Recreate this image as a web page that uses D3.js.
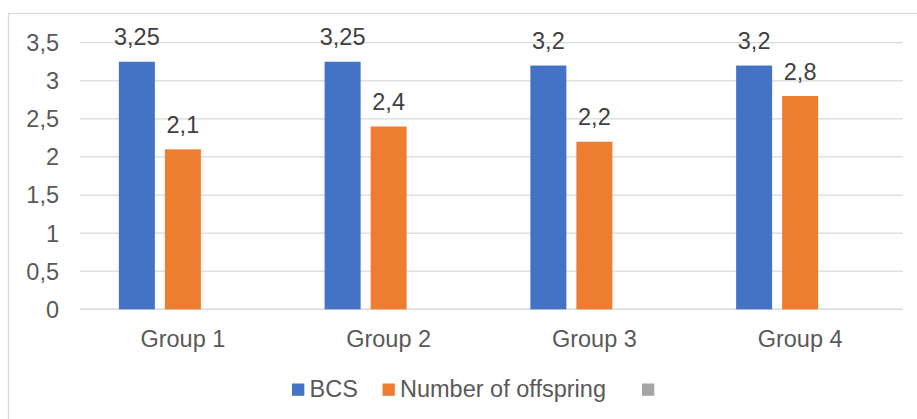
<!DOCTYPE html>
<html>
<head>
<meta charset="utf-8">
<script src="https://cdn.jsdelivr.net/npm/d3@7"></script>
<style>
  body { margin: 0; background: #fff; }
  text { font-family: "Liberation Sans", Arial, sans-serif; fill: #595959; }
</style>
</head>
<body>
<svg id="chart"></svg>
<script>
// data
const groups = ['Group 1', 'Group 2', 'Group 3', 'Group 4'];
const seriesNames = ['BCS', 'Number of offspring', ''];
const bcs = [3.25, 3.25, 3.2, 3.2];
const offspring = [2.1, 2.4, 2.2, 2.8];
const third = [null, null, null, null];
const yTicks = [0, 0.5, 1, 1.5, 2, 2.5, 3, 3.5];

const colors = ['#4472C4', '#ED7D31', '#A5A5A5'];
const fmt = v => String(v).replace('.', ',');
const fontSize = '23.5px';

const width = 917, height = 419;
const margin = {top: 42.7, right: 14, bottom: 109.7, left: 80};
const innerW = width - margin.left - margin.right;
const innerH = height - margin.top - margin.bottom;

const svg = d3.select('#chart')
    .attr('width', width)
    .attr('height', height);

// chart frame (top + left edge visible)
svg.append('rect')
    .attr('x', 8.5).attr('y', 13.5)
    .attr('width', 920).attr('height', 420)
    .attr('fill', 'none')
    .attr('stroke', '#D9D9D9')
    .attr('stroke-width', 1.3);

const chart = svg.append('g')
    .attr('transform', `translate(${margin.left},${margin.top})`);

const xScale = d3.scaleBand()
    .domain(groups)
    .range([0, innerW]);

const yScale = d3.scaleLinear()
    .domain([0, 3.5])
    .range([innerH, 0]);

// gridlines
chart.selectAll('.grid')
    .data(yTicks)
    .join('line')
    .attr('class', 'grid')
    .attr('x1', 0).attr('x2', innerW)
    .attr('y1', d => yScale(d)).attr('y2', d => yScale(d))
    .attr('stroke', '#D9D9D9')
    .attr('stroke-width', d => d === 0 ? 1.6 : 1.3);

// y labels
chart.selectAll('.ylab')
    .data(yTicks)
    .join('text')
    .attr('class', 'ylab')
    .attr('x', -21)
    .attr('y', d => yScale(d))
    .attr('dy', '0.36em')
    .attr('text-anchor', 'end')
    .style('font-size', fontSize)
    .text(d => fmt(d));

// x labels
chart.selectAll('.xlab')
    .data(groups)
    .join('text')
    .attr('class', 'xlab')
    .attr('x', d => xScale(d) + xScale.bandwidth() / 2)
    .attr('y', innerH + 37.5)
    .attr('text-anchor', 'middle')
    .style('font-size', fontSize)
    .text(d => d);

// bars
const barW = 36, step = 46;
const allSeries = [bcs, offspring, third];
allSeries.forEach((vals, si) => {
    const rows = groups.map((g, i) => ({g, v: vals[i]})).filter(d => d.v != null);
    const off = (si - 1) * step - barW / 2;

    chart.selectAll(`.bar-${si}`)
        .data(rows)
        .join('rect')
        .attr('class', `bar-${si}`)
        .attr('x', d => xScale(d.g) + xScale.bandwidth() / 2 + off)
        .attr('y', d => yScale(d.v))
        .attr('width', barW)
        .attr('height', d => innerH - yScale(d.v))
        .attr('fill', colors[si]);

    chart.selectAll(`.lab-${si}`)
        .data(rows)
        .join('text')
        .attr('class', `lab-${si}`)
        .attr('x', d => xScale(d.g) + xScale.bandwidth() / 2 + off + barW / 2)
        .attr('y', d => yScale(d.v) - 16.5)
        .attr('text-anchor', 'middle')
        .style('font-size', fontSize)
        .style('fill', '#404040')
        .text(d => fmt(d.v));
});

// legend
const legendX = [292, 382.5, 642];
const legend = svg.selectAll('.legend')
    .data(seriesNames)
    .join('g')
    .attr('class', 'legend')
    .attr('transform', (d, i) => `translate(${legendX[i]},383.5)`);

legend.append('rect')
    .attr('width', 12.3).attr('height', 12.3)
    .attr('fill', (d, i) => colors[i]);

legend.append('text')
    .attr('x', 17.5)
    .attr('y', 13)
    .style('font-size', fontSize)
    .text(d => d);
</script>
</body>
</html>
